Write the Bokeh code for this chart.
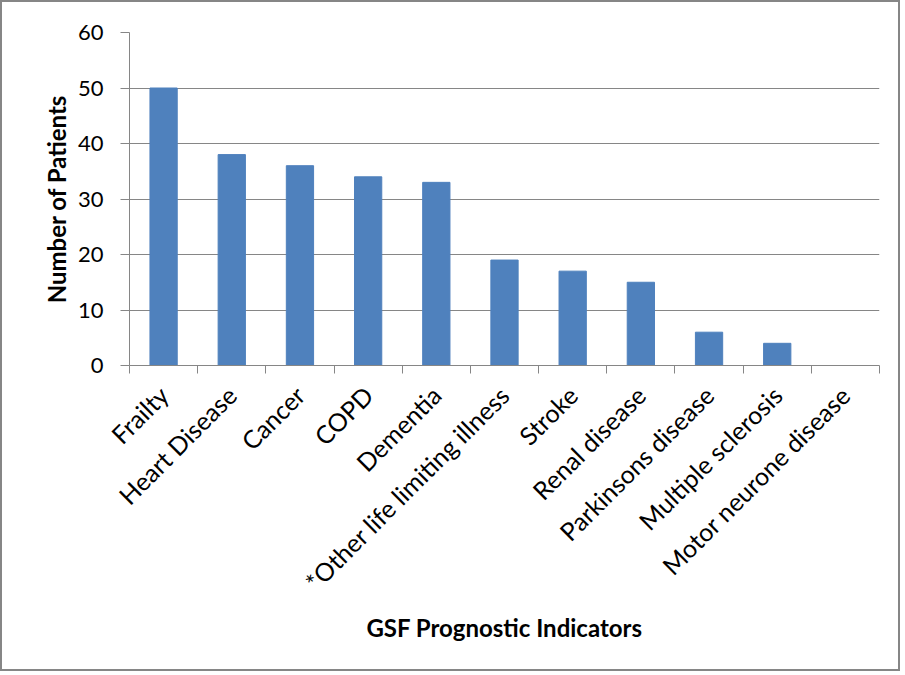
import math
from bokeh.plotting import figure
from bokeh.models import ColumnDataSource, FixedTicker, Range1d
from bokeh.embed import file_html
from bokeh.resources import INLINE

categories = ["Frailty", "Heart Disease", "Cancer", "COPD", "Dementia",
              "*Other life limiting illness", "Stroke", "Renal disease",
              "Parkinsons disease", "Multiple sclerosis", "Motor neurone disease"]
patients = [50, 38, 36, 34, 33, 19, 17, 15, 6, 4, 0]
y_ticks = [0, 10, 20, 30, 40, 50, 60]

xpos = [i + 0.5 for i in range(len(categories))]
src = ColumnDataSource(dict(x=xpos, top=patients, name=categories))

FONT = "Lato"
GRAY = "#868686"

p = figure(width=900, height=671, output_backend="svg", toolbar_location=None,
           x_range=Range1d(0, len(categories)), y_range=Range1d(0, 60),
           min_border_left=127, min_border_right=23, min_border_top=30,
           min_border_bottom=308)
p.styles = {"border": "2px solid #868686", "box-sizing": "border-box"}
p.outline_line_color = None

p.vbar(x="x", top="top", width=0.4, source=src, fill_color="#4F81BD",
       line_color="#4F81BD")

# x axis
p.xaxis.ticker = FixedTicker(ticks=xpos, minor_ticks=list(range(len(categories) + 1)))
p.xaxis.major_label_overrides = {x: c for x, c in zip(xpos, categories)}
p.xaxis.major_label_orientation = math.pi / 4
p.xaxis.major_tick_line_color = None
p.xaxis.major_tick_out = 0
p.xaxis.major_tick_in = 0
p.xaxis.minor_tick_line_color = GRAY
p.xaxis.minor_tick_out = 8
p.xaxis.minor_tick_in = 0
p.xaxis.axis_line_color = GRAY
p.xaxis.major_label_text_font = FONT
p.xaxis.major_label_text_font_size = "25px"
p.xaxis.major_label_text_color = "black"
p.xaxis.major_label_standoff = 17
p.xaxis.axis_label = "GSF Prognostic Indicators"
p.xaxis.axis_label_text_font = FONT
p.xaxis.axis_label_text_font_style = "bold"
p.xaxis.axis_label_text_font_size = "24px"
p.xaxis.axis_label_text_color = "black"
p.xaxis.axis_label_standoff = 3

# y axis
p.yaxis.ticker = FixedTicker(ticks=y_ticks)
p.yaxis.minor_tick_line_color = None
p.yaxis.major_tick_line_color = GRAY
p.yaxis.major_tick_out = 9
p.yaxis.major_tick_in = 0
p.yaxis.axis_line_color = GRAY
p.yaxis.major_label_text_font = FONT
p.yaxis.major_label_text_font_size = "22px"
p.yaxis.major_label_text_color = "black"
p.yaxis.major_label_standoff = 17
p.yaxis.axis_label = "Number of Patients"
p.yaxis.axis_label_text_font = FONT
p.yaxis.axis_label_text_font_style = "bold"
p.yaxis.axis_label_text_font_size = "24px"
p.yaxis.axis_label_text_color = "black"
p.yaxis.axis_label_standoff = 4

p.xgrid.grid_line_color = None
p.ygrid.grid_line_color = GRAY
p.ygrid.grid_line_width = 1

open("out.html", "w").write(file_html(p, INLINE))
